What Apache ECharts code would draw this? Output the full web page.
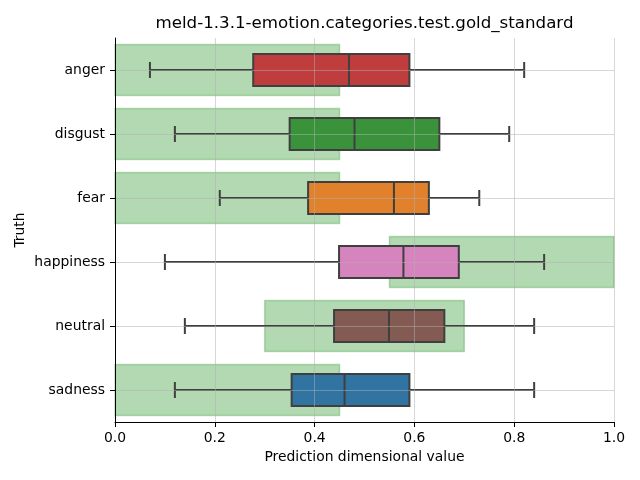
<!DOCTYPE html>
<html><head><meta charset="utf-8">
<script src="https://cdn.jsdelivr.net/npm/echarts@6/dist/echarts.min.js"></script>
<style>html,body{margin:0;padding:0;background:#fff}#c{width:640px;height:480px}</style>
</head><body><div id="c"></div>
<script>
const categories = ['anger', 'disgust', 'fear', 'happiness', 'neutral', 'sadness'];
const whiskerLow = [0.070, 0.120, 0.210, 0.100, 0.140, 0.120];
const q1 = [0.277, 0.350, 0.387, 0.449, 0.439, 0.354];
const median = [0.469, 0.480, 0.559, 0.578, 0.549, 0.460];
const q3 = [0.590, 0.650, 0.629, 0.689, 0.660, 0.590];
const whiskerHigh = [0.820, 0.790, 0.730, 0.860, 0.840, 0.840];
const goldLow = [0, 0, 0, 0.55, 0.30, 0];
const goldHigh = [0.45, 0.45, 0.45, 1.0, 0.70, 0.45];
const boxColors = ['#c03d3e', '#3a923a', '#e1812c', '#d684bd', '#845b53', '#3274a1'];
const titleText = 'meld-1.3.1-emotion.categories.test.gold_standard';
const xName = 'Prediction dimensional value';
const yName = 'Truth';

const FONT = 'DejaVu Sans';
const chart = echarts.init(document.getElementById('c'), null, {renderer: 'canvas'});

const goldData = categories.map((c, i) => [i, goldLow[i], goldHigh[i]]);
const boxData = categories.map((c, i) => [i, whiskerLow[i], q1[i], median[i], q3[i], whiskerHigh[i]]);
const edge = '#3f3f3f';

const option = {
  animation: false,
  backgroundColor: '#ffffff',
  graphic: [{
    type: 'text', x: 364.5, y: 15.5, z: 100,
    style: {text: titleText, fontFamily: FONT, fontSize: 16.67, fill: '#000', textAlign: 'center', textVerticalAlign: 'top'}
  }],
  grid: {left: 115, right: 26, top: 38, bottom: 58, containLabel: false},
  xAxis: {
    type: 'value', min: 0, max: 1, interval: 0.2, z: 10,
    name: xName, nameLocation: 'middle', nameGap: 28, nameMoveOverlap: false,
    nameTextStyle: {fontFamily: FONT, fontSize: 13.9, color: '#000'},
    axisLine: {show: true, onZero: false, lineStyle: {color: '#000', width: 1}},
    axisTick: {show: true, length: 5, inside: false, lineStyle: {color: '#000', width: 1}},
    axisLabel: {margin: 9, fontFamily: FONT, fontSize: 13.9, color: '#000', formatter: v => v.toFixed(1)},
    splitLine: {show: true, lineStyle: {color: 'rgba(176,176,176,0.5)', width: 1}}
  },
  yAxis: {
    type: 'category', data: categories, inverse: true, z: 10,
    name: yName, nameLocation: 'middle', nameGap: 88, nameRotate: 90, nameMoveOverlap: false,
    nameTextStyle: {fontFamily: FONT, fontSize: 13.9, color: '#000'},
    axisLine: {show: true, lineStyle: {color: '#000', width: 1}},
    axisTick: {show: true, length: 5, alignWithLabel: true, lineStyle: {color: '#000', width: 1}},
    axisLabel: {margin: 10, fontFamily: FONT, fontSize: 13.9, color: '#000'},
    splitLine: {show: false}
  },
  series: [
    {
      type: 'custom', name: 'gold', z: 1,
      encode: {x: [1, 2], y: 0},
      data: goldData,
      renderItem: function (params, api) {
        const idx = api.value(0);
        const p0 = api.coord([api.value(1), idx]);
        const p1 = api.coord([api.value(2), idx]);
        const h = api.size([0, 1])[1] * 0.8;
        return {
          type: 'rect',
          shape: {x: p0[0], y: p0[1] - h / 2, width: p1[0] - p0[0], height: h},
          style: {fill: 'rgba(0,128,0,0.3)', stroke: 'rgba(0,128,0,0.25)', lineWidth: 1.5}
        };
      }
    },
    {
      type: 'custom', name: 'box', z: 3,
      encode: {x: [1, 2, 3, 4, 5], y: 0},
      data: boxData,
      renderItem: function (params, api) {
        const idx = api.value(0);
        const pLo = api.coord([api.value(1), idx]);
        const pQ1 = api.coord([api.value(2), idx]);
        const pMed = api.coord([api.value(3), idx]);
        const pQ3 = api.coord([api.value(4), idx]);
        const pHi = api.coord([api.value(5), idx]);
        const band = api.size([0, 1])[1];
        const bh = band * 0.5;
        const ch = band * 0.25;
        const cy = pMed[1];
        const ls = {stroke: edge, lineWidth: 2, fill: null};
        return {
          type: 'group',
          children: [
            {type: 'line', shape: {x1: pLo[0], y1: cy, x2: pQ1[0], y2: cy}, style: ls},
            {type: 'line', shape: {x1: pQ3[0], y1: cy, x2: pHi[0], y2: cy}, style: ls},
            {type: 'line', shape: {x1: pLo[0], y1: cy - ch / 2, x2: pLo[0], y2: cy + ch / 2}, style: ls},
            {type: 'line', shape: {x1: pHi[0], y1: cy - ch / 2, x2: pHi[0], y2: cy + ch / 2}, style: ls},
            {type: 'rect', shape: {x: pQ1[0], y: cy - bh / 2, width: pQ3[0] - pQ1[0], height: bh},
              style: {fill: boxColors[params.dataIndex], stroke: edge, lineWidth: 2}},
            {type: 'line', shape: {x1: pMed[0], y1: cy - bh / 2, x2: pMed[0], y2: cy + bh / 2}, style: ls}
          ]
        };
      },
      markLine: {
        silent: true, symbol: 'none', z: 5, animation: false,
        label: {show: false},
        lineStyle: {color: 'rgba(176,176,176,0.5)', width: 1, type: 'solid'},
        data: categories.map(c => ({yAxis: c}))
      }
    }
  ]
};
chart.setOption(option);
</script>
</body></html>
